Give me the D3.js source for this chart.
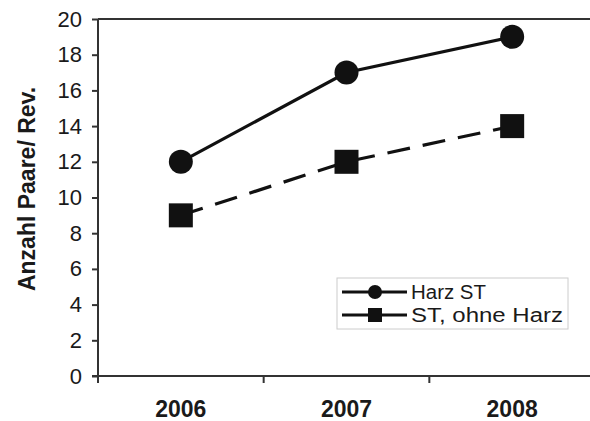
<!DOCTYPE html>
<html><head><meta charset="utf-8">
<script src="https://cdn.jsdelivr.net/npm/d3@7"></script>
<style>body{margin:0;background:#fff}svg{display:block}text{font-family:"Liberation Sans",Arial,sans-serif;fill:#1a1a1a}</style>
</head><body>
<script>
const years = ["2006", "2007", "2008"];
const harzST = [12, 17, 19];
const stOhneHarz = [9, 12, 14];
const yTicks = [0, 2, 4, 6, 8, 10, 12, 14, 16, 18, 20];
const seriesNames = ["Harz ST", "ST, ohne Harz"];
const yTitle = "Anzahl Paare/ Rev.";

const W = 590, H = 421;
const m = {left: 98, top: 19, right: 595, bottom: 376};
const svg = d3.select("body").append("svg").attr("width", W).attr("height", H);

const x = d3.scaleBand().domain(years).range([m.left, m.right]);
const y = d3.scaleLinear().domain([0, 20]).range([m.bottom, m.top]);
const axisCol = "#333";

// top frame line
svg.append("line").attr("x1", m.left).attr("x2", W).attr("y1", y(20)).attr("y2", y(20))
  .attr("stroke", axisCol).attr("stroke-width", 2);

// Y axis
const gy = svg.append("g").attr("transform", `translate(${m.left},0)`)
  .call(d3.axisLeft(y).tickValues(yTicks).tickSize(6).tickPadding(10).tickSizeOuter(0));
gy.select(".domain").remove();
gy.selectAll(".tick line").attr("stroke", axisCol).attr("stroke-width", 2);
gy.selectAll(".tick text").attr("font-size", 22).style("fill", "#1a1a1a");
svg.append("line").attr("x1", m.left).attr("x2", m.left).attr("y1", m.top).attr("y2", m.bottom + 7)
  .attr("stroke", axisCol).attr("stroke-width", 2);

// X axis
svg.append("line").attr("x1", m.left - 6).attr("x2", W).attr("y1", m.bottom).attr("y2", m.bottom)
  .attr("stroke", axisCol).attr("stroke-width", 2);
const boundaries = years.map(d => x(d)).slice(1);
svg.selectAll(".xt").data(boundaries).enter().append("line")
  .attr("x1", d => d).attr("x2", d => d).attr("y1", m.bottom).attr("y2", m.bottom + 7)
  .attr("stroke", axisCol).attr("stroke-width", 2);
svg.selectAll(".xl").data(years).enter().append("text")
  .attr("x", d => x(d) + x.bandwidth() / 2).attr("y", 417)
  .attr("text-anchor", "middle").attr("font-size", 23).attr("font-weight", "bold").text(d => d);

// Y title
svg.append("text").attr("transform", "translate(35,189) rotate(-90)")
  .attr("text-anchor", "middle").attr("font-size", 23).attr("font-weight", "bold").text(yTitle);

const cx = d => x(d) + x.bandwidth() / 2;
const line = d3.line().x(d => cx(d.year)).y(d => y(d.v));
const d1 = years.map((yr, i) => ({year: yr, v: harzST[i]}));
const d2 = years.map((yr, i) => ({year: yr, v: stOhneHarz[i]}));
const ink = "#111";

svg.append("path").datum(d2).attr("d", line).attr("fill", "none").attr("stroke", ink)
  .attr("stroke-width", 3.2).attr("stroke-dasharray", "23,13");
svg.append("path").datum(d1).attr("d", line).attr("fill", "none").attr("stroke", ink)
  .attr("stroke-width", 3.2);

svg.selectAll(".c").data(d1).enter().append("circle")
  .attr("cx", d => cx(d.year)).attr("cy", d => y(d.v)).attr("r", 12).attr("fill", ink);
const s = 24;
svg.selectAll(".s").data(d2).enter().append("rect")
  .attr("x", d => cx(d.year) - s / 2).attr("y", d => y(d.v) - s / 2)
  .attr("width", s).attr("height", s).attr("fill", ink);

// Legend
const lg = svg.append("g");
lg.append("rect").attr("x", 337).attr("y", 278).attr("width", 231).attr("height", 51)
  .attr("fill", "#fff").attr("stroke", "#ccc").attr("stroke-width", 1);
const rows = [292, 315];
const legendWidths = [75, 152];
seriesNames.forEach((name, i) => {
  const ry = rows[i];
  lg.append("line").attr("x1", 342).attr("x2", 407).attr("y1", ry).attr("y2", ry)
    .attr("stroke", ink).attr("stroke-width", 3);
  if (i === 0) lg.append("circle").attr("cx", 375).attr("cy", ry).attr("r", 7).attr("fill", ink);
  else lg.append("rect").attr("x", 368).attr("y", ry - 7).attr("width", 14).attr("height", 14).attr("fill", ink);
  lg.append("text").attr("x", 411).attr("y", ry + 7).attr("font-size", 20)
    .attr("textLength", legendWidths[i]).attr("lengthAdjust", "spacingAndGlyphs").text(name);
});
</script>
</body></html>
